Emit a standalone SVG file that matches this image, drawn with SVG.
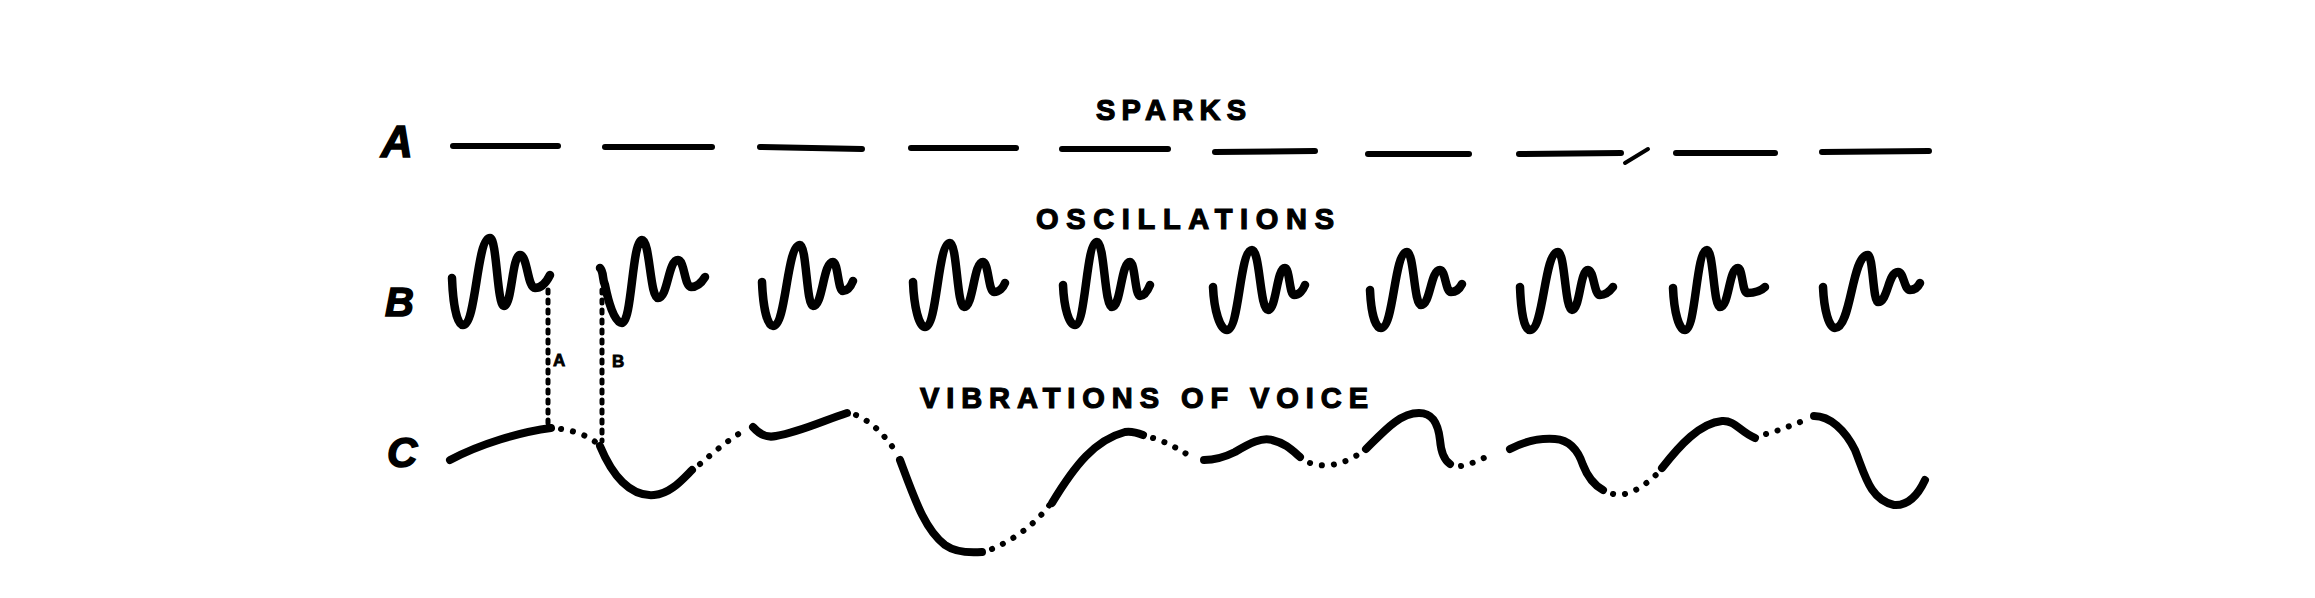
<svg xmlns="http://www.w3.org/2000/svg" width="2315" height="598" viewBox="0 0 2315 598">
<style>
.bg{fill:#fff}
.lbl{font-family:"Liberation Sans",Arial,sans-serif;font-weight:bold;fill:#000}
.row{font-size:44px;font-style:italic;stroke:#000;stroke-width:1.5}
.cap{font-size:29px;stroke:#000;stroke-width:1.2}
.small{font-size:17px;stroke:#000;stroke-width:0.8}
.dash{stroke:#000;stroke-width:6;stroke-linecap:round;fill:none}
.wave{stroke:#000;stroke-width:8.5;stroke-linecap:round;stroke-linejoin:round;fill:none}
.voice{stroke:#000;stroke-width:8;stroke-linecap:round;stroke-linejoin:round;fill:none}
.dots{stroke:#000;stroke-width:6;stroke-linecap:round;fill:none;stroke-dasharray:0.1 12}
.vdots{stroke:#000;stroke-width:5;stroke-linecap:round;fill:none;stroke-dasharray:3 7}
</style>
<rect class="bg" x="0" y="0" width="2315" height="598"/>

<g id="row-a">
<text class="lbl row" x="381" y="157">A</text>
<text class="lbl cap" x="1096" y="120" textLength="150" lengthAdjust="spacing">SPARKS</text>
<line class="dash" x1="453" y1="146" x2="558" y2="146"/>
<line class="dash" x1="605" y1="147" x2="712" y2="147"/>
<line class="dash" x1="760" y1="147" x2="862" y2="149"/>
<line class="dash" x1="911" y1="148" x2="1016" y2="148"/>
<line class="dash" x1="1062" y1="149" x2="1168" y2="149"/>
<line class="dash" x1="1215" y1="152" x2="1315" y2="151"/>
<line class="dash" x1="1368" y1="154" x2="1469" y2="154"/>
<line class="dash" x1="1519" y1="154" x2="1621" y2="153"/>
<line class="dash" x1="1625" y1="163" x2="1648" y2="149" style="stroke-width:4"/>
<line class="dash" x1="1676" y1="153" x2="1775" y2="153"/>
<line class="dash" x1="1822" y1="152" x2="1929" y2="151"/>
</g>

<g id="row-b">
<text class="lbl row" x="385" y="316" style="font-size:40px">B</text>
<text class="lbl cap" x="1036" y="229" textLength="298" lengthAdjust="spacing">OSCILLATIONS</text>
<path class="wave" d="M452,278 C453,305 457,325 463,325 C476.5,325 476.5,238 490,238 C497,238 497,306 504,306 C512,306 512,255 520,255 C527.5,255 527.5,288 535,288 C542,288 547,281 550,275"/>
<path class="wave" d="M600,268 C604,272 602,279 605,285 C608,300 614,323 622,323 C632,323 632,240 642,240 C650,240 650,298 658,298 C668,298 668,260 678,260 C684.5,260 684.5,287 691,287 C697,287 702,282 705,277"/>
<path class="wave" d="M762,282 C763,306 767,326 773,326 C786.5,326 786.5,245 800,245 C806.5,245 806.5,306 813,306 C823,306 823,262 833,262 C838,262 838,291 843,291 C848,291 851,286 853,281"/>
<path class="wave" d="M913,282 C914,307 919,327 925,327 C937.5,327 937.5,243 950,243 C957,243 957,307 964,307 C973.5,307 973.5,262 983,262 C988.5,262 988.5,292 994,292 C999,292 1003,288 1005,283"/>
<path class="wave" d="M1063,285 C1064,308 1069,325 1075,325 C1086,325 1086,242 1097,242 C1104.5,242 1104.5,307 1112,307 C1121,307 1121,262 1130,262 C1135,262 1135,296 1140,296 C1145,296 1148,290 1150,285"/>
<path class="wave" d="M1213,287 C1214,310 1220,330 1227,330 C1239.5,330 1239.5,250 1252,250 C1260,250 1260,310 1268,310 C1276.5,310 1276.5,268 1285,268 C1289.5,268 1289.5,295 1294,295 C1299,295 1303,290 1305,285"/>
<path class="wave" d="M1370,290 C1371,312 1375,328 1381,328 C1394,328 1394,252 1407,252 C1414,252 1414,305 1421,305 C1430.5,305 1430.5,270 1440,270 C1445.5,270 1445.5,292 1451,292 C1456,292 1460,288 1462,284"/>
<path class="wave" d="M1520,287 C1521,312 1524,330 1530,330 C1544,330 1544,252 1558,252 C1565,252 1565,310 1572,310 C1580,310 1580,270 1588,270 C1594,270 1594,295 1600,295 C1606,295 1610,291 1613,287"/>
<path class="wave" d="M1673,288 C1674,312 1679,330 1685,330 C1696,330 1696,250 1707,250 C1713.5,250 1713.5,307 1720,307 C1729,307 1729,268 1738,268 C1742.5,268 1742.5,293 1747,293 C1755,293 1761,291 1765,287"/>
<path class="wave" d="M1823,287 C1824,310 1829,328 1835,328 C1851.5,328 1851.5,255 1868,255 C1873,255 1873,302 1878,302 C1888,302 1888,272 1898,272 C1904,272 1904,290 1910,290 C1915,290 1918,287 1920,283"/>
</g>

<g id="connectors">
<line class="vdots" x1="548" y1="290" x2="548" y2="426"/>
<line class="vdots" x1="602" y1="290" x2="602" y2="441"/>
<text class="lbl small" x="553" y="366">A</text>
<text class="lbl small" x="612" y="367">B</text>
</g>

<g id="row-c">
<text class="lbl row" x="387" y="467" style="font-size:42px">C</text>
<text class="lbl cap" x="920" y="408" textLength="448" lengthAdjust="spacing">VIBRATIONS OF VOICE</text>
<path class="voice" d="M450,460 C480,444 520,432 551,428"/>
<path class="dots" d="M561,429 C575,431 590,436 600,446"/>
<path class="voice" d="M600,446 C612,475 630,497 654,495 C670,494 682,480 692,470"/>
<path class="dots" d="M700,464 C714,452 728,440 745,430"/>
<path class="voice" d="M753,427 C760,435 768,438 776,436 C800,432 825,420 847,413"/>
<path class="dots" d="M856,415 C872,422 885,435 898,455"/>
<path class="voice" d="M900,460 C915,500 925,530 945,545 C955,552 970,553 982,552"/>
<path class="dots" d="M992,549 C1013,540 1035,525 1051,503"/>
<path class="voice" d="M1052,503 C1075,465 1095,440 1125,432 C1132,431 1138,433 1143,435"/>
<path class="dots" d="M1153,438 C1167,442 1180,450 1195,459"/>
<path class="voice" d="M1204,460 C1215,460 1225,457 1235,452 C1250,443 1262,437 1272,440 C1285,443 1292,450 1300,457"/>
<path class="dots" d="M1310,463 C1322,467 1340,468 1365,450"/>
<path class="voice" d="M1366,449 C1385,430 1400,413 1419,413 C1432,413 1438,422 1440,440 C1441,452 1444,460 1450,464"/>
<path class="dots" d="M1461,466 C1468,465 1478,461 1490,455"/>
<path class="voice" d="M1510,449 C1525,441 1540,438 1555,439 C1570,440 1578,450 1583,465 C1588,478 1594,485 1603,490"/>
<path class="dots" d="M1613,494 C1626,497 1640,490 1658,473"/>
<path class="voice" d="M1662,468 C1680,445 1700,423 1722,421 C1735,420 1740,432 1755,438"/>
<path class="dots" d="M1766,434 C1778,431 1792,425 1808,419"/>
<path class="voice" d="M1814,416 C1830,416 1845,430 1855,450 C1865,475 1870,500 1894,505 C1908,506 1918,495 1925,480"/>
</g>
</svg>
